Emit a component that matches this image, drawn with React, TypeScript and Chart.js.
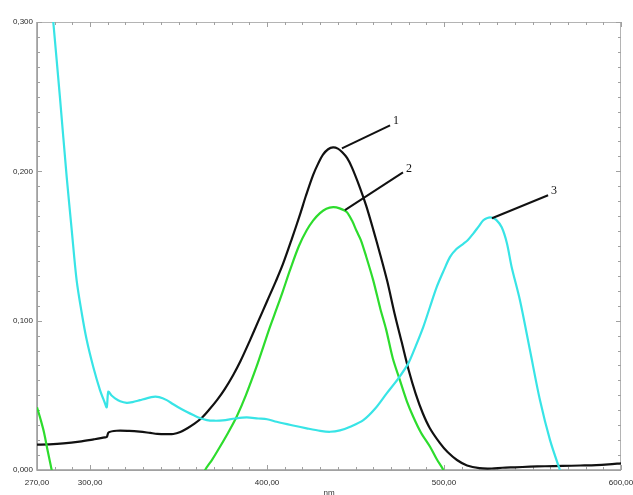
import React, { useEffect, useRef } from 'react';
import { Chart, registerables } from 'chart.js';

Chart.register(...registerables);

// Curve 1 (black)
const wl1 = [270, 277, 285, 294, 302, 308.4, 309.5, 310.5, 315, 322, 328, 334, 338, 343, 347, 351, 355, 359, 363, 367, 371.7, 376, 380.8, 385, 390.4, 395, 400, 405, 409, 414, 418.6, 422, 426, 429, 431.6, 434.5, 437.3, 440, 442.5, 445.2, 448, 452.5, 456, 460, 464, 468, 472, 476, 480, 484, 488, 492, 497.7, 502, 507.3, 513, 520, 527, 533, 540, 548.6, 557, 567, 577, 586, 593, 600];
const abs1 = [0.017, 0.0172, 0.0178, 0.019, 0.0205, 0.0218, 0.0222, 0.0252, 0.0263, 0.0262, 0.0257, 0.0248, 0.0242, 0.024, 0.0241, 0.0255, 0.028, 0.031, 0.0348, 0.04, 0.0468, 0.054, 0.0635, 0.073, 0.087, 0.0995, 0.113, 0.1265, 0.138, 0.1548, 0.171, 0.1838, 0.1975, 0.2055, 0.2112, 0.2148, 0.216, 0.2152, 0.2128, 0.209, 0.2025, 0.189, 0.177, 0.161, 0.144, 0.126, 0.105, 0.086, 0.067, 0.051, 0.038, 0.028, 0.018, 0.012, 0.0067, 0.003, 0.0012, 0.001, 0.0015, 0.0018, 0.0022, 0.0025, 0.0027, 0.003, 0.0033, 0.0038, 0.0045];

// Curve 2 (green); null = below the axis, not drawn
const wl2 = [270, 272, 274, 276, 278.3, 280, 320, 362, 365, 369, 373.4, 378, 382.8, 388, 394, 398, 401.7, 405.4, 409, 413, 418, 422.4, 426, 429.9, 433.5, 437.4, 441, 445, 448, 450.6, 453, 456, 460, 464, 467.3, 471, 475.1, 479, 482.6, 487, 492.1, 496, 499.6, 502];
const abs2 = [0.042, 0.034, 0.025, 0.013, 0, -0.01, null, -0.008, 0, 0.007, 0.0156, 0.025, 0.0357, 0.05, 0.069, 0.083, 0.096, 0.108, 0.12, 0.134, 0.15, 0.1605, 0.167, 0.172, 0.175, 0.176, 0.1752, 0.1728, 0.167, 0.16, 0.154, 0.143, 0.127, 0.108, 0.094, 0.075, 0.06, 0.046, 0.0357, 0.025, 0.0156, 0.007, 0, -0.008];

// Curve 3 (cyan)
const wl3 = [276, 279.2, 283, 286.8, 289.6, 292.4, 295.3, 298.1, 301.8, 305.6, 308, 309.4, 310.3, 312, 314.1, 317, 320.7, 324, 328.2, 332, 335.7, 339, 343.3, 347, 350.8, 354.5, 358.3, 362, 366, 370, 375, 382, 388.5, 395, 400, 405.4, 414, 422.4, 430, 435.6, 441.2, 447, 454.4, 461, 467.6, 474, 479.8, 484, 488.3, 492, 495.9, 500, 503.4, 507, 510.9, 513.5, 516.5, 519.5, 522.2, 524.5, 526.9, 529.5, 532.6, 535.5, 538.2, 542.9, 548.6, 554.2, 559.9, 565.5, 568];
const abs3 = [0.341, 0.3, 0.249, 0.196, 0.161, 0.127, 0.105, 0.087, 0.069, 0.0535, 0.046, 0.042, 0.0524, 0.05, 0.048, 0.046, 0.045, 0.0455, 0.0468, 0.048, 0.049, 0.0488, 0.0468, 0.044, 0.0413, 0.039, 0.0368, 0.0348, 0.0334, 0.033, 0.0332, 0.0345, 0.0352, 0.0345, 0.034, 0.0323, 0.03, 0.0279, 0.0262, 0.0256, 0.0265, 0.029, 0.0334, 0.041, 0.0513, 0.061, 0.0714, 0.083, 0.0959, 0.109, 0.1226, 0.134, 0.1427, 0.148, 0.1515, 0.154, 0.1583, 0.163, 0.1672, 0.1688, 0.169, 0.1675, 0.1625, 0.152, 0.136, 0.1137, 0.08, 0.0468, 0.02, 0, -0.008];

const xMajorTicks = [270, 300, 400, 500, 600];
const xMinorStep = 10;
const yMajorStep = 0.1;
const yMinorStep = 0.01;
const xMin = 270;
const xMax = 600;
const yMin = 0;
const yMax = 0.3;

// Leader annotations (data units)
const leaderLabels = ['1', '2', '3'];
const leaderFromX = [442.3, 444.0, 527.1];
const leaderFromY = [0.2154, 0.174, 0.1686];
const leaderToX = [469.5, 476.8, 558.8];
const leaderToY = [0.2308, 0.1993, 0.184];

const toPoints = (xs: number[], ys: (number | null)[]) => xs.map((x, i) => ({ x, y: ys[i] }));
const fmt = (v: number, d: number) => v.toFixed(d).replace('.', ',');

const framePlugin = {
  id: 'frameTicks',
  beforeDatasetsDraw(chart: any) {
    const { ctx, chartArea: a, scales } = chart;
    const xs = scales.x;
    const ys = scales.y;
    ctx.save();
    ctx.strokeStyle = '#b4b4b4';
    ctx.lineWidth = 1;
    ctx.strokeRect(a.left + 0.5, a.top + 0.5, a.right - a.left - 1, a.bottom - a.top);
    ctx.strokeStyle = '#9a9a9a';
    ctx.lineWidth = 1.5;
    ctx.beginPath();
    ctx.moveTo(a.left, a.top);
    ctx.lineTo(a.left, a.bottom);
    ctx.lineTo(a.right, a.bottom);
    ctx.stroke();
    ctx.strokeStyle = '#a0a0a0';
    ctx.lineWidth = 1;
    ctx.beginPath();
    for (let v = xMin; v <= xMax + 1e-9; v += xMinorStep) {
      const px = Math.round(xs.getPixelForValue(v)) + 0.5;
      const major = xMajorTicks.includes(v);
      const len = major ? 5 : 3;
      ctx.moveTo(px, a.bottom);
      ctx.lineTo(px, a.bottom - len);
      ctx.moveTo(px, a.top);
      ctx.lineTo(px, a.top + len);
    }
    const n = Math.round((yMax - yMin) / yMinorStep);
    for (let i = 0; i <= n; i++) {
      const v = yMin + i * yMinorStep;
      const py = Math.round(ys.getPixelForValue(v)) + 0.5;
      const major = i % Math.round(yMajorStep / yMinorStep) === 0;
      const len = major ? 5 : 3;
      ctx.moveTo(a.left, py);
      ctx.lineTo(a.left + len, py);
      ctx.moveTo(a.right, py);
      ctx.lineTo(a.right - len, py);
    }
    ctx.stroke();
    ctx.restore();
  },
  afterDatasetsDraw(chart: any) {
    const { ctx, scales } = chart;
    const xs = scales.x;
    const ys = scales.y;
    ctx.save();
    ctx.strokeStyle = '#111111';
    ctx.lineWidth = 2;
    ctx.fillStyle = '#111111';
    ctx.font = '12px "Liberation Serif", "DejaVu Serif", serif';
    ctx.textAlign = 'left';
    ctx.textBaseline = 'middle';
    leaderLabels.forEach((lab, i) => {
      const x0 = xs.getPixelForValue(leaderFromX[i]);
      const y0 = ys.getPixelForValue(leaderFromY[i]);
      const x1 = xs.getPixelForValue(leaderToX[i]);
      const y1 = ys.getPixelForValue(leaderToY[i]);
      ctx.beginPath();
      ctx.moveTo(x0, y0);
      ctx.lineTo(x1, y1);
      ctx.stroke();
      ctx.fillText(lab, x1 + 3, y1 - 4);
    });
    ctx.restore();
  },
};

export default function App() {
  const ref = useRef<HTMLCanvasElement | null>(null);
  useEffect(() => {
    if (!ref.current) return;
    const tickFont = { family: '"Liberation Sans", Arial, sans-serif', size: 8 };
    const chart = new Chart(ref.current, {
      type: 'line',
      data: {
        datasets: [
          { label: '3', data: toPoints(wl3, abs3), borderColor: '#38e4e6', borderWidth: 2.2 },
          { label: '2', data: toPoints(wl2, abs2), borderColor: '#2ddc2d', borderWidth: 2.2 },
          { label: '1', data: toPoints(wl1, abs1), borderColor: '#111111', borderWidth: 2.2 },
        ] as any,
      },
      options: {
        responsive: false,
        animation: false,
        parsing: false as any,
        normalized: true,
        layout: { padding: { top: 22, right: 12, left: 0, bottom: 0 } },
        elements: {
          point: { radius: 0, hoverRadius: 0 },
          line: { tension: 0.3, fill: false },
        },
        datasets: { line: { clip: 0, spanGaps: false } as any },
        plugins: { legend: { display: false }, tooltip: { enabled: false } },
        scales: {
          x: {
            type: 'linear',
            min: xMin,
            max: xMax,
            grid: { display: false, drawTicks: false, tickLength: 0 },
            border: { display: false },
            ticks: {
              font: tickFont,
              color: '#2a2a2a',
              padding: 8,
              autoSkip: false,
              maxRotation: 0,
              callback: (v: any) => fmt(Number(v), 2),
            },
            title: { display: true, text: 'nm', font: tickFont, color: '#333333', padding: { top: 0, bottom: -3 } },
            afterBuildTicks: (s: any) => {
              s.ticks = xMajorTicks.map((v) => ({ value: v }));
            },
            afterFit: (s: any) => {
              s.height = 25;
              s.paddingLeft = 0;
              s.paddingRight = 0;
            },
          },
          y: {
            type: 'linear',
            min: yMin,
            max: yMax,
            grid: { display: false, drawTicks: false, tickLength: 0 },
            border: { display: false },
            ticks: {
              stepSize: yMajorStep,
              font: tickFont,
              color: '#2a2a2a',
              padding: 4,
              callback: (v: any) => fmt(Number(v), 3),
            },
            afterFit: (s: any) => {
              s.width = 37;
              s.paddingTop = 0;
              s.paddingBottom = 0;
            },
          },
        },
      },
      plugins: [framePlugin],
    });
    return () => chart.destroy();
  }, []);
  return (
    <div style={{ position: 'fixed', left: 0, top: 0, width: 633, height: 495, background: '#ffffff' }}>
      <canvas ref={ref} width={633} height={495} style={{ display: 'block' }} />
    </div>
  );
}
